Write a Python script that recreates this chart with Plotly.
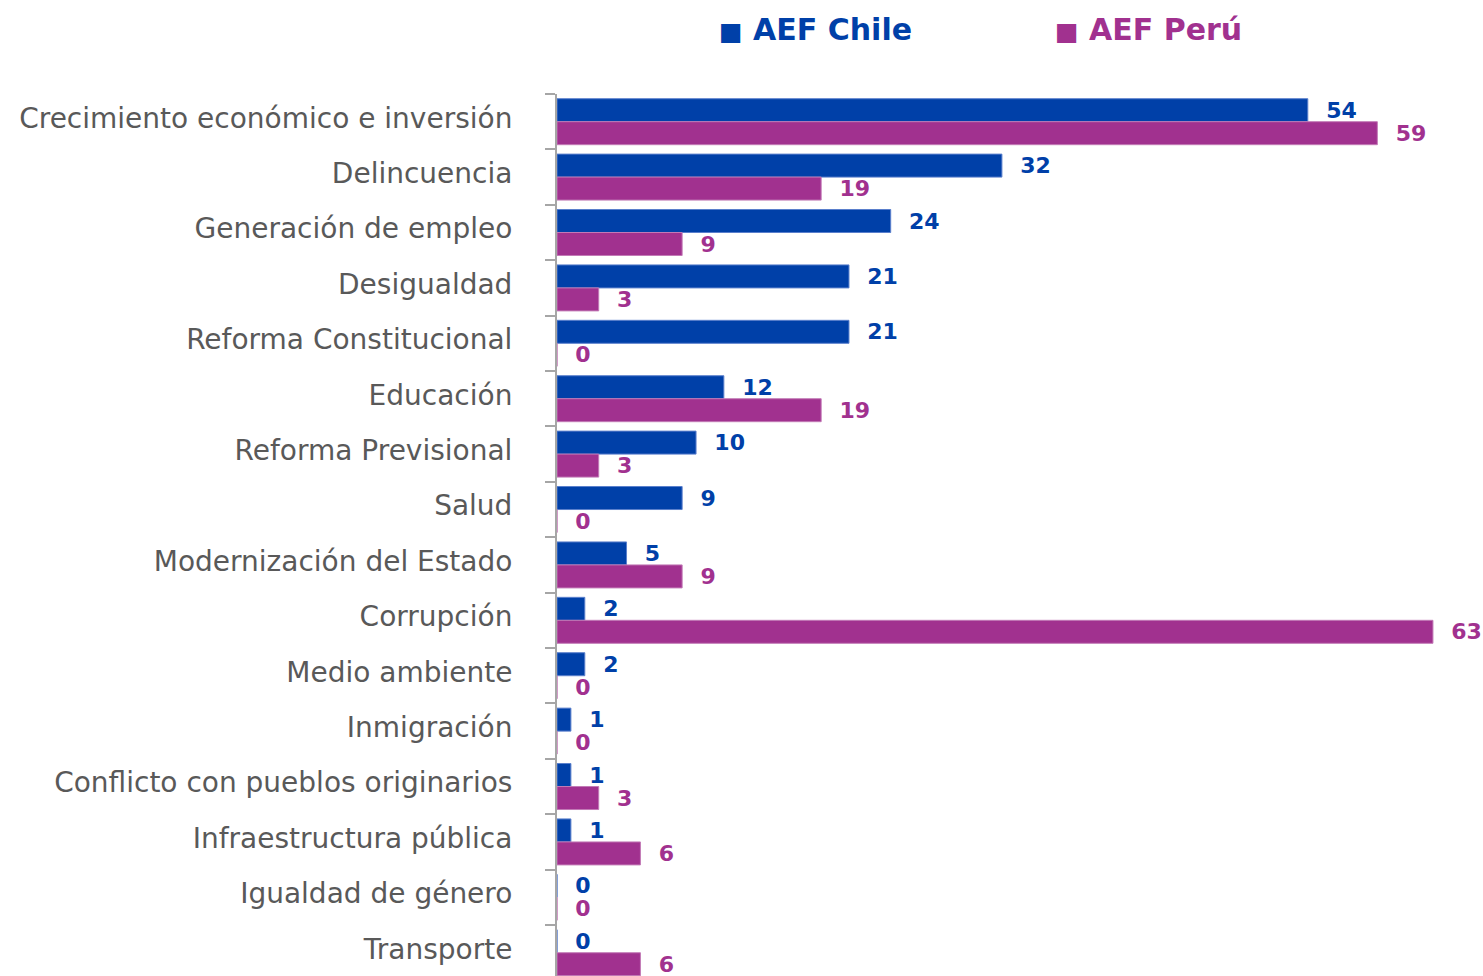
import plotly.graph_objects as go

categories = [
    "Crecimiento económico e inversión",
    "Delincuencia",
    "Generación de empleo",
    "Desigualdad",
    "Reforma Constitucional",
    "Educación",
    "Reforma Previsional",
    "Salud",
    "Modernización del Estado",
    "Corrupción",
    "Medio ambiente",
    "Inmigración",
    "Conflicto con pueblos originarios",
    "Infraestructura pública",
    "Igualdad de género",
    "Transporte",
]
chile = [54, 32, 24, 21, 21, 12, 10, 9, 5, 2, 2, 1, 1, 1, 0, 0]
peru = [59, 19, 9, 3, 0, 19, 3, 0, 9, 63, 0, 0, 3, 6, 0, 6]

BLUE = "#0040A8"
PURPLE = "#A1318F"
NB = "\u00a0\u00a0"

fig = go.Figure()
fig.add_trace(go.Bar(
    y=categories, x=chile, orientation="h", name="AEF Chile",
    marker=dict(color=BLUE, line=dict(color="#5A7FCC", width=1)),
    text=[NB + str(v) for v in chile], textposition="outside",
    textfont=dict(family="DejaVu Sans", size=22, color=BLUE, weight="bold"),
    cliponaxis=False, constraintext="none", showlegend=False,
))
fig.add_trace(go.Bar(
    y=categories, x=peru, orientation="h", name="AEF Perú",
    marker=dict(color=PURPLE, line=dict(color="#C27AB6", width=1)),
    text=[NB + str(v) for v in peru], textposition="outside",
    textfont=dict(family="DejaVu Sans", size=22, color=PURPLE, weight="bold"),
    cliponaxis=False, constraintext="none", showlegend=False,
))

L, T = 557, 94
W, H = 1483, 976
pw = W - L
ph = H - T

fig.update_layout(
    width=W, height=H,
    margin=dict(l=L, r=0, t=T, b=0, autoexpand=False),
    paper_bgcolor="white", plot_bgcolor="white",
    barmode="group", bargap=0.17, bargroupgap=0,
    xaxis=dict(range=[0, 66.6], showticklabels=False, showgrid=False,
               zeroline=False, showline=False, ticks="", automargin=False),
    yaxis=dict(type="category", range=[15.42, -0.5], showgrid=False,
               showline=True, linecolor="#A6A6A6", linewidth=2,
               ticks="outside", tickson="boundaries", ticklen=10,
               tickcolor="#A6A6A6", tickwidth=2, ticklabelstandoff=37,
               ticklabelshift=4, automargin=False,
               tickfont=dict(family="DejaVu Sans", size=28, color="#595959")),
)

anns = []
for txt, px, col in [("AEF Chile", 717, BLUE), ("AEF Perú", 1053, PURPLE)]:
    anns.append(dict(
        text="<span style='font-size:25px'>■</span> " + txt,
        x=(px - L) / pw, y=1 + (T - 29) / ph,
        xref="paper", yref="paper", xanchor="left", yanchor="middle",
        showarrow=False,
        font=dict(family="DejaVu Sans", size=30, color=col, weight="bold"),
    ))
fig.update_layout(annotations=anns)

fig.write_html("out.html", config={"displayModeBar": False},
               post_script="document.body.style.margin='0';document.body.style.overflow='hidden';")
